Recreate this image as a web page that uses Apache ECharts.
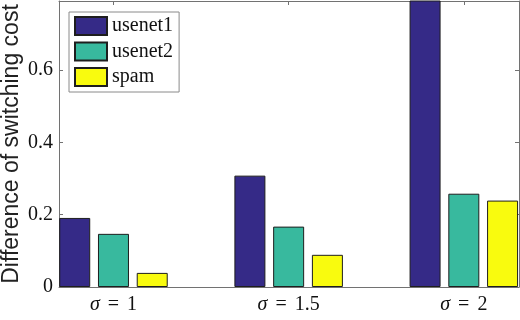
<!DOCTYPE html>
<html>
<head>
<meta charset="utf-8">
<script src="https://cdn.jsdelivr.net/npm/echarts@6/dist/echarts.min.js"></script>
<style>
html,body{margin:0;padding:0;background:#fff;}
#chart{width:520px;height:320px;}
</style>
</head>
<body>
<div id="chart"></div>
<script>
var categories = ['σ = 1', 'σ = 1.5', 'σ = 2'];
var categoryPositions = [1, 2, 3];
var seriesNames = ['usenet1', 'usenet2', 'spam'];
var usenet1 = [0.191, 0.308, 0.85];
var usenet2 = [0.147, 0.167, 0.258];
var spam = [0.039, 0.089, 0.239];
var yTickValues = [0, 0.2, 0.4, 0.6];
var seriesColors = ['#352a87', '#38b99e', '#f9fb0e'];

var allValues = [usenet1, usenet2, spam];
var axisGray = '#727272';
var serif = '"Liberation Serif", "Times New Roman", serif';

function pairs(vals) {
  return vals.map(function (v, i) { return [categoryPositions[i], v]; });
}

function richCategory(label) {
  var parts = label.split(' = ');
  return '{i|' + parts[0] + '} {e|=} ' + parts[1];
}

var chart = echarts.init(document.getElementById('chart'), null, {renderer: 'canvas'});

var option = {
  animation: false,
  backgroundColor: '#ffffff',
  grid: {left: 59, right: 1, top: 1, bottom: 33, containLabel: false, outerBoundsMode: 'none'},
  legend: {
    orient: 'vertical',
    left: 69,
    top: 12,
    padding: [4, 6, 5, 5],
    itemWidth: 32,
    itemHeight: 18,
    itemGap: 5.5,
    backgroundColor: '#ffffff',
    borderColor: '#8a8a8a',
    borderWidth: 1,
    icon: 'rect',
    textStyle: {fontFamily: serif, fontSize: 20, color: '#111'},
    data: seriesNames
  },
  xAxis: [{
    type: 'value',
    min: 0.689,
    max: 3.315,
    position: 'bottom',
    axisLine: {show: true, lineStyle: {color: axisGray, width: 1}},
    axisTick: {show: true, inside: true, length: 5, customValues: categoryPositions, lineStyle: {color: axisGray}},
    axisLabel: {
      show: true,
      customValues: categoryPositions,
      margin: 8,
      fontFamily: serif,
      fontSize: 20,
      color: '#111',
      rich: {
        i: {fontFamily: serif, fontSize: 20, fontStyle: 'italic', color: '#111'},
        e: {fontFamily: serif, fontSize: 20, color: '#111', padding: [0, 3, 0, 3]}
      },
      formatter: function (v) {
        var idx = categoryPositions.indexOf(Math.round(v));
        return idx >= 0 ? richCategory(categories[idx]) : '';
      }
    },
    splitLine: {show: false}
  }, {
    type: 'value',
    min: 0.689,
    max: 3.315,
    position: 'top',
    axisLine: {show: true, onZero: false, lineStyle: {color: axisGray, width: 1}},
    axisTick: {show: true, inside: true, length: 4, customValues: categoryPositions, lineStyle: {color: axisGray}},
    axisLabel: {show: false},
    splitLine: {show: false}
  }],
  yAxis: [{
    type: 'value',
    min: 0,
    max: 0.791,
    interval: 0.2,
    position: 'left',
    name: 'Difference of switching cost',
    nameLocation: 'middle',
    nameGap: 47,
    nameMoveOverlap: false,
    nameTextStyle: {fontFamily: '"Liberation Sans", Arial, sans-serif', fontSize: 23, color: '#222', verticalAlign: 'middle'},
    axisLine: {show: true, lineStyle: {color: axisGray, width: 1}},
    axisTick: {show: true, inside: true, length: 4, customValues: yTickValues, lineStyle: {color: axisGray}},
    axisLabel: {
      show: true,
      customValues: yTickValues,
      margin: 6,
      fontFamily: serif,
      fontSize: 20,
      color: '#111',
      formatter: function (v) { return String(Math.round(v * 10) / 10); }
    },
    splitLine: {show: false}
  }, {
    type: 'value',
    min: 0,
    max: 0.791,
    interval: 0.2,
    position: 'right',
    axisLine: {show: true, onZero: false, lineStyle: {color: axisGray, width: 1}},
    axisTick: {show: true, inside: true, length: 4, customValues: yTickValues, lineStyle: {color: axisGray}},
    axisLabel: {show: false},
    splitLine: {show: false}
  }],
  series: seriesNames.map(function (name, i) {
    return {
      name: name,
      type: 'bar',
      xAxisIndex: 0,
      yAxisIndex: 0,
      barWidth: 31,
      barGap: '25%',
      clip: true,
      itemStyle: {color: seriesColors[i], borderColor: '#1e1e1e', borderWidth: 1},
      data: pairs(allValues[i])
    };
  })
};

chart.setOption(option);
</script>
</body>
</html>
